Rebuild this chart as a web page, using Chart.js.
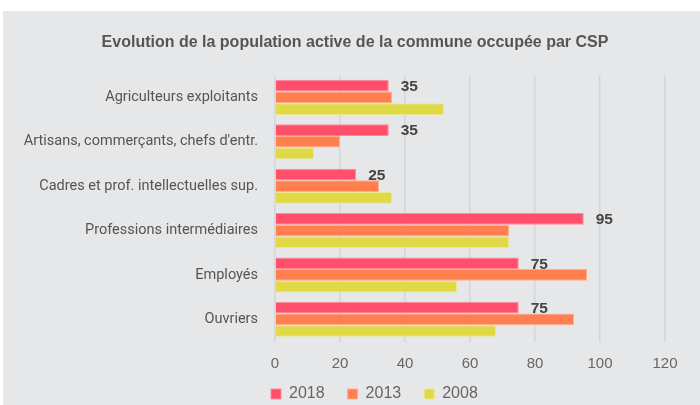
<!DOCTYPE html>
<html>
<head>
<meta charset="utf-8">
<script src="https://cdn.jsdelivr.net/npm/chart.js@4"></script>
<style>
    html, body { margin: 0; padding: 0; background: #ffffff; }
    .panel { position: absolute; left: 3px; top: 11px; width: 697px; height: 394px; background: #e6e7e9; }
    canvas { display: block; }
</style>
</head>
<body>
<div class="panel"><canvas id="chart" width="697" height="394"></canvas></div>
<script>
const categories = [
    'Agriculteurs exploitants',
    "Artisans, commerçants, chefs d'entr.",
    'Cadres et prof. intellectuelles sup.',
    'Professions intermédiaires',
    'Employés',
    'Ouvriers'
];
const years = ['2018', '2013', '2008'];
const values2018 = [35, 35, 25, 95, 75, 75];
const values2013 = [36, 20, 32, 72, 96, 92];
const values2008 = [52, 12, 36, 72, 56, 68];
const xTicks = [0, 20, 40, 60, 80, 100, 120];

const font = "'Liberation Sans', Arial, sans-serif";

// labels on the 2018 bars only
const barLabels = {
    id: 'barLabels',
    afterDatasetsDraw(chart) {
        const ctx = chart.ctx;
        const meta = chart.getDatasetMeta(0);
        ctx.save();
        ctx.font = 'bold 15.5px ' + font;
        ctx.fillStyle = '#444444';
        ctx.textAlign = 'left';
        ctx.textBaseline = 'middle';
        meta.data.forEach(function (bar, i) {
            ctx.fillText(String(values2018[i]), bar.x + 12, bar.y + 1);
        });
        ctx.restore();
    }
};

// nudge legend (under plot's left edge) and title (centred on the panel)
const placeBoxes = {
    id: 'placeBoxes',
    afterLayout(chart) {
        chart.legend.left -= 27;
        chart.legend.right -= 27;
        chart.legend.top -= 8.5;
        chart.legend.bottom -= 8.5;
        chart.titleBlock.left += 21;
        chart.titleBlock.right += 21;
    }
};

document.addEventListener('DOMContentLoaded', function () {
    const ctx = document.getElementById('chart').getContext('2d');
    new Chart(ctx, {
        type: 'bar',
        data: {
            labels: categories,
            datasets: [{
                label: years[0],
                data: values2018,
                backgroundColor: '#ff4f6b',
                borderColor: '#ff8a99',
                borderWidth: 1
            }, {
                label: years[1],
                data: values2013,
                backgroundColor: '#ff7f4f',
                borderColor: '#ffae8e',
                borderWidth: 1
            }, {
                label: years[2],
                data: values2008,
                backgroundColor: '#e0d946',
                borderColor: '#ece78a',
                borderWidth: 1
            }]
        },
        options: {
            indexAxis: 'y',
            responsive: false,
            animation: false,
            layout: { padding: { left: 0, right: 35, top: 0, bottom: -15.5 } },
            categoryPercentage: 0.79,
            barPercentage: 1,
            scales: {
                x: {
                    min: 0,
                    max: 120,
                    afterBuildTicks: function (scale) {
                        scale.ticks = xTicks.map(function (v) { return { value: v }; });
                    },
                    afterFit: function (scale) { scale.height = 30; },
                    grid: { color: '#d4d5d8', lineWidth: 1.5, drawTicks: false },
                    border: { display: false },
                    ticks: { color: '#666666', padding: 13, font: { family: font, size: 15 } }
                },
                y: {
                    afterFit: function (scale) { scale.width = 272; },
                    grid: { display: false, drawTicks: false },
                    border: { display: false },
                    ticks: { color: '#555555', padding: 17, font: { family: 'Roboto', size: 14.5 } }
                }
            },
            plugins: {
                title: {
                    display: true,
                    text: 'Evolution de la population active de la commune occupée par CSP',
                    color: '#555555',
                    font: { family: font, size: 16, weight: 'bold' },
                    padding: { top: 21.5, bottom: 23.5 }
                },
                legend: {
                    position: 'bottom',
                    align: 'start',
                    fullSize: false,
                    labels: {
                        color: '#666666',
                        boxWidth: 10,
                        boxHeight: 10,
                        padding: 23,
                        font: { family: font, size: 16 }
                    }
                },
                tooltip: { enabled: false }
            }
        },
        plugins: [barLabels, placeBoxes]
    });
});
</script>
</body>
</html>
